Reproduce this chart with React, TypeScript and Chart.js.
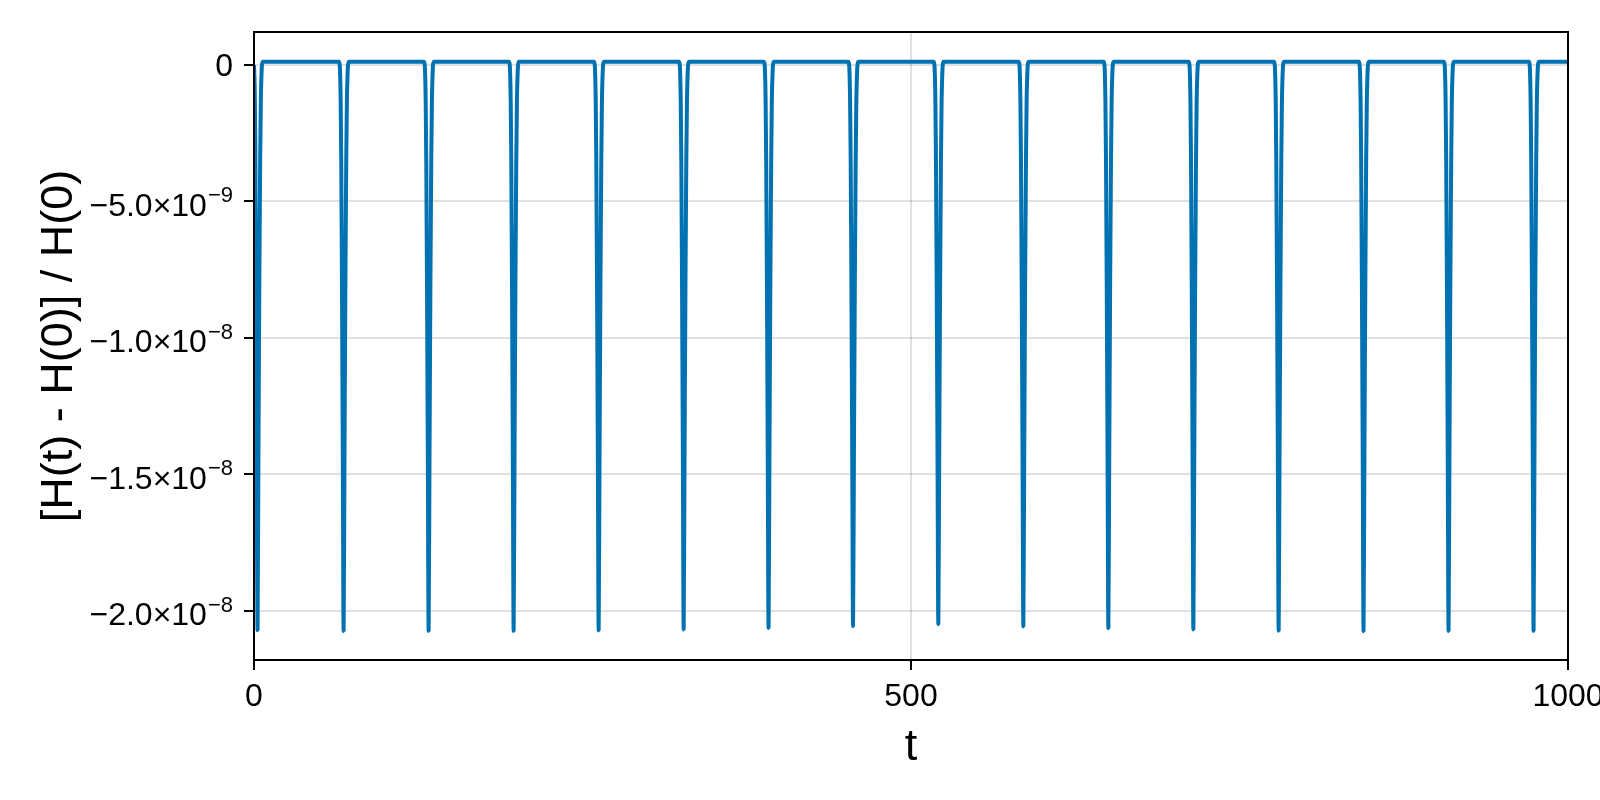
import React, { useEffect, useRef } from "react";
import { Chart, registerables } from "chart.js";

Chart.register(...registerables);

// ---- data ----
const timeValues: number[] = [
  0, 0.5, 0.95, 1.45, 2.1, 2.7, 3.35, 4.05, 4.7, 5.2, 5.65, 6.1, 6.9,
  64.6, 65.2, 65.6, 65.95, 66.4, 66.95, 67.6, 68.2, 68.85, 69.55, 70.2, 70.7, 71.15, 71.6, 72.4,
  129.3, 129.9, 130.3, 130.65, 131.1, 131.65, 132.3, 132.9, 133.55, 134.25, 134.9, 135.4, 135.85, 136.3, 137.1,
  194.0, 194.6, 195.0, 195.35, 195.8, 196.35, 197.0, 197.6, 198.25, 198.95, 199.6, 200.1, 200.55, 201.0, 201.8,
  258.7, 259.3, 259.7, 260.05, 260.5, 261.05, 261.7, 262.3, 262.95, 263.65, 264.3, 264.8, 265.25, 265.7, 266.5,
  323.4, 324.0, 324.4, 324.75, 325.2, 325.75, 326.4, 327.0, 327.65, 328.35, 329.0, 329.5, 329.95, 330.4, 331.2,
  388.0, 388.6, 389.0, 389.35, 389.8, 390.35, 391.0, 391.6, 392.25, 392.95, 393.6, 394.1, 394.55, 395.0, 395.8,
  452.3, 452.9, 453.3, 453.65, 454.1, 454.65, 455.3, 455.9, 456.55, 457.25, 457.9, 458.4, 458.85, 459.3, 460.1,
  517.2, 517.8, 518.2, 518.55, 519.0, 519.55, 520.2, 520.8, 521.45, 522.15, 522.8, 523.3, 523.75, 524.2, 525.0,
  581.9, 582.5, 582.9, 583.25, 583.7, 584.25, 584.9, 585.5, 586.15, 586.85, 587.5, 588.0, 588.45, 588.9, 589.7,
  646.6, 647.2, 647.6, 647.95, 648.4, 648.95, 649.6, 650.2, 650.85, 651.55, 652.2, 652.7, 653.15, 653.6, 654.4,
  711.3, 711.9, 712.3, 712.65, 713.1, 713.65, 714.3, 714.9, 715.55, 716.25, 716.9, 717.4, 717.85, 718.3, 719.1,
  776.2, 776.8, 777.2, 777.55, 778.0, 778.55, 779.2, 779.8, 780.45, 781.15, 781.8, 782.3, 782.75, 783.2, 784.0,
  840.8, 841.4, 841.8, 842.15, 842.6, 843.15, 843.8, 844.4, 845.05, 845.75, 846.4, 846.9, 847.35, 847.8, 848.6,
  905.5, 906.1, 906.5, 906.85, 907.3, 907.85, 908.5, 909.1, 909.75, 910.45, 911.1, 911.6, 912.05, 912.5, 913.3,
  970.2, 970.8, 971.2, 971.55, 972.0, 972.55, 973.2, 973.8, 974.45, 975.15, 975.8, 976.3, 976.75, 977.2, 978.0,
  1000,
];

const energyErrorValues: number[] = [
  -0.02e-9, -0.8e-9, -2.5e-9, -7.0e-9, -14.5e-9, -20.71e-9, -14.5e-9, -8.0e-9, -3.5e-9, -1.3e-9, -0.45e-9, 0.0, 0.10e-9,
  0.10e-9, 0.0, -0.45e-9, -1.3e-9, -3.5e-9, -8.0e-9, -14.5e-9, -20.74e-9, -14.5e-9, -8.0e-9, -3.5e-9, -1.3e-9, -0.45e-9, 0.0, 0.10e-9,
  0.10e-9, 0.0, -0.45e-9, -1.3e-9, -3.5e-9, -8.0e-9, -14.5e-9, -20.74e-9, -14.5e-9, -8.0e-9, -3.5e-9, -1.3e-9, -0.45e-9, 0.0, 0.10e-9,
  0.10e-9, 0.0, -0.45e-9, -1.3e-9, -3.5e-9, -8.0e-9, -14.5e-9, -20.74e-9, -14.5e-9, -8.0e-9, -3.5e-9, -1.3e-9, -0.45e-9, 0.0, 0.10e-9,
  0.10e-9, 0.0, -0.45e-9, -1.3e-9, -3.5e-9, -8.0e-9, -14.5e-9, -20.72e-9, -14.5e-9, -8.0e-9, -3.5e-9, -1.3e-9, -0.45e-9, 0.0, 0.10e-9,
  0.10e-9, 0.0, -0.45e-9, -1.3e-9, -3.5e-9, -8.0e-9, -14.5e-9, -20.68e-9, -14.5e-9, -8.0e-9, -3.5e-9, -1.3e-9, -0.45e-9, 0.0, 0.10e-9,
  0.10e-9, 0.0, -0.45e-9, -1.3e-9, -3.5e-9, -8.0e-9, -14.5e-9, -20.63e-9, -14.5e-9, -8.0e-9, -3.5e-9, -1.3e-9, -0.45e-9, 0.0, 0.10e-9,
  0.10e-9, 0.0, -0.45e-9, -1.3e-9, -3.5e-9, -8.0e-9, -14.5e-9, -20.56e-9, -14.5e-9, -8.0e-9, -3.5e-9, -1.3e-9, -0.45e-9, 0.0, 0.10e-9,
  0.10e-9, 0.0, -0.45e-9, -1.3e-9, -3.5e-9, -8.0e-9, -14.5e-9, -20.49e-9, -14.5e-9, -8.0e-9, -3.5e-9, -1.3e-9, -0.45e-9, 0.0, 0.10e-9,
  0.10e-9, 0.0, -0.45e-9, -1.3e-9, -3.5e-9, -8.0e-9, -14.5e-9, -20.57e-9, -14.5e-9, -8.0e-9, -3.5e-9, -1.3e-9, -0.45e-9, 0.0, 0.10e-9,
  0.10e-9, 0.0, -0.45e-9, -1.3e-9, -3.5e-9, -8.0e-9, -14.5e-9, -20.64e-9, -14.5e-9, -8.0e-9, -3.5e-9, -1.3e-9, -0.45e-9, 0.0, 0.10e-9,
  0.10e-9, 0.0, -0.45e-9, -1.3e-9, -3.5e-9, -8.0e-9, -14.5e-9, -20.68e-9, -14.5e-9, -8.0e-9, -3.5e-9, -1.3e-9, -0.45e-9, 0.0, 0.10e-9,
  0.10e-9, 0.0, -0.45e-9, -1.3e-9, -3.5e-9, -8.0e-9, -14.5e-9, -20.73e-9, -14.5e-9, -8.0e-9, -3.5e-9, -1.3e-9, -0.45e-9, 0.0, 0.10e-9,
  0.10e-9, 0.0, -0.45e-9, -1.3e-9, -3.5e-9, -8.0e-9, -14.5e-9, -20.75e-9, -14.5e-9, -8.0e-9, -3.5e-9, -1.3e-9, -0.45e-9, 0.0, 0.10e-9,
  0.10e-9, 0.0, -0.45e-9, -1.3e-9, -3.5e-9, -8.0e-9, -14.5e-9, -20.74e-9, -14.5e-9, -8.0e-9, -3.5e-9, -1.3e-9, -0.45e-9, 0.0, 0.10e-9,
  0.10e-9, 0.0, -0.45e-9, -1.3e-9, -3.5e-9, -8.0e-9, -14.5e-9, -20.74e-9, -14.5e-9, -8.0e-9, -3.5e-9, -1.3e-9, -0.45e-9, 0.0, 0.10e-9,
  0.10e-9,
];

const xTickValues: number[] = [0, 500, 1000];
const yTickValues: number[] = [-2e-8, -1.5e-8, -1e-8, -5e-9, 0];
const yTickMantissas: string[] = ["\u22122.0\u00d710", "\u22121.5\u00d710", "\u22121.0\u00d710", "\u22125.0\u00d710", "0"];
const yTickExponents: string[] = ["\u22128", "\u22128", "\u22128", "\u22129", ""];

const xAxisTitle = "t";
const yAxisTitle = "[H(t) - H(0)] / H(0)";

const X_MIN = 0;
const X_MAX = 1000;
const Y_MIN = -2.18e-8;
const Y_MAX = 1.19e-9;

// ---- styles ----
const FONT = '"Liberation Sans", Arial, Helvetica, sans-serif';
const LINE_COLOR = "#0072b2";
const GRID_COLOR = "rgba(0,0,0,0.12)";
const TICK_FONT_SIZE = 32;
const TITLE_FONT_SIZE = 45;

export default function App() {
  const canvasRef = useRef<HTMLCanvasElement | null>(null);

  useEffect(() => {
    document.body.style.margin = "0";
    const canvas = canvasRef.current;
    if (!canvas) return;

    const points = timeValues.map((t, i) => ({ x: t, y: energyErrorValues[i] }));

    const decorations = {
      id: "makieDecorations",
      afterDraw(chart: any) {
        const { ctx, chartArea } = chart;
        const yScale = chart.scales.y;
        ctx.save();
        // frame (spines)
        ctx.strokeStyle = "#000";
        ctx.lineWidth = 2;
        ctx.strokeRect(chartArea.left, chartArea.top, chartArea.right - chartArea.left, chartArea.bottom - chartArea.top);

        // y tick labels with superscript exponents
        ctx.fillStyle = "#000";
        const rightEdge = chartArea.left - 21;
        const supSize = Math.round(TICK_FONT_SIZE * 0.7);
        yTickValues.forEach((v, i) => {
          const y = yScale.getPixelForValue(v);
          const mant = yTickMantissas[i];
          const exp = yTickExponents[i];
          ctx.textBaseline = "alphabetic";
          ctx.textAlign = "right";
          let x = rightEdge;
          const baseY = y + TICK_FONT_SIZE * 0.36 + (exp ? 3 : 0);
          if (exp) {
            ctx.font = `${supSize}px ${FONT}`;
            const w = ctx.measureText(exp).width;
            ctx.fillText(exp, x, baseY - TICK_FONT_SIZE * 0.42);
            x -= w + 1;
          }
          ctx.font = `${TICK_FONT_SIZE}px ${FONT}`;
          ctx.fillText(mant, x, baseY);
        });

        // axis titles
        ctx.font = `${TITLE_FONT_SIZE}px ${FONT}`;
        ctx.textAlign = "center";
        ctx.textBaseline = "middle";
        ctx.fillText(xAxisTitle, (chartArea.left + chartArea.right) / 2, 748);
        ctx.translate(60, (chartArea.top + chartArea.bottom) / 2);
        ctx.rotate(-Math.PI / 2);
        ctx.fillText(yAxisTitle, 0, 0);
        ctx.restore();
      },
    };

    const chart = new Chart(canvas, {
      type: "line",
      data: {
        datasets: [
          {
            data: points,
            borderColor: LINE_COLOR,
            borderWidth: 4,
            pointRadius: 0,
            fill: false,
            cubicInterpolationMode: "monotone",
            borderJoinStyle: "bevel",
          },
        ],
      },
      options: {
        animation: false,
        responsive: false,
        devicePixelRatio: 1,
        layout: { padding: { left: 0, right: 32, top: 32, bottom: 0 } },
        plugins: { legend: { display: false }, tooltip: { enabled: false }, title: { display: false } },
        scales: {
          x: {
            type: "linear",
            min: X_MIN,
            max: X_MAX,
            afterBuildTicks: (s: any) => {
              s.ticks = xTickValues.map((v) => ({ value: v }));
            },
            afterFit: (s: any) => {
              s.height = 140;
              s.paddingLeft = 0;
              s.paddingRight = 0;
            },
            border: { display: false },
            grid: { color: GRID_COLOR, lineWidth: 2, drawTicks: true, tickLength: 10, tickColor: "#000", tickWidth: 2 },
            ticks: {
              color: "#000",
              font: { family: FONT, size: TICK_FONT_SIZE },
              padding: 8,
              maxRotation: 0,
              autoSkip: false,
              callback: (v: any) => String(v),
            },
          },
          y: {
            type: "linear",
            min: Y_MIN,
            max: Y_MAX,
            afterBuildTicks: (s: any) => {
              s.ticks = yTickValues.map((v) => ({ value: v }));
            },
            afterFit: (s: any) => {
              s.width = 254;
              s.paddingTop = 0;
              s.paddingBottom = 0;
            },
            border: { display: false },
            grid: { color: GRID_COLOR, lineWidth: 2, drawTicks: true, tickLength: 10, tickColor: "#000", tickWidth: 2 },
            ticks: { display: false },
          },
        },
      },
      plugins: [decorations],
    } as any);

    return () => chart.destroy();
  }, []);

  return (
    <div style={{ width: 1600, height: 800, background: "#fff" }}>
      <canvas ref={canvasRef} width={1600} height={800} style={{ display: "block", width: 1600, height: 800 }} />
    </div>
  );
}
